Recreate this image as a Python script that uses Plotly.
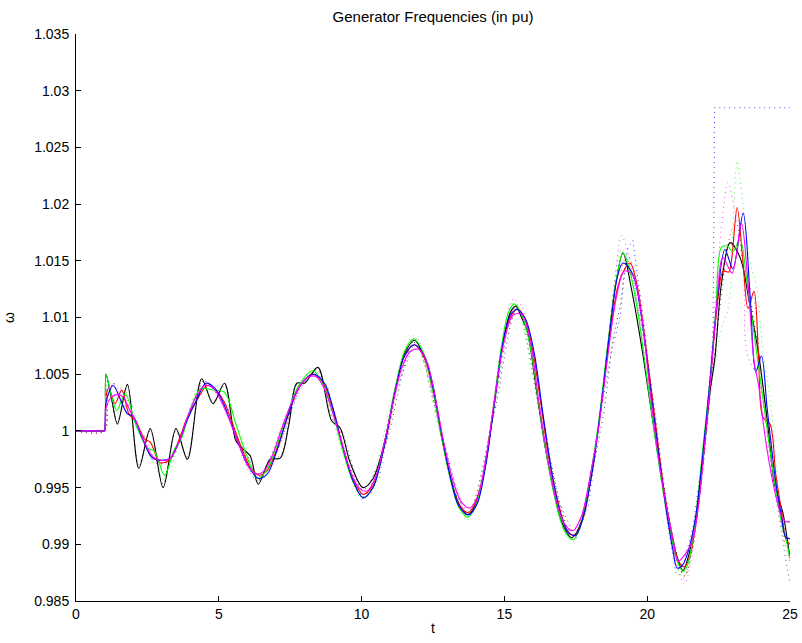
import plotly.graph_objects as go

# ---------------- data ----------------
t_black = [0, 0.95, 1.0, 1.05, 1.25, 1.45, 1.8, 2.2, 2.6, 3.05, 3.5, 3.9, 4.4, 4.8, 5.2, 5.6, 5.85, 6.1, 6.38, 6.8,
           7.15, 7.45, 7.73, 8.0, 8.47, 8.95, 9.24, 9.6, 10.05, 10.4, 10.8, 11.2, 11.5, 11.85, 12.2, 12.5, 12.8, 13.1,
           13.4, 13.7, 14.0, 14.3, 14.6, 14.9, 15.2, 15.4, 15.6, 15.8, 16.1, 16.4, 16.7, 17.0, 17.35, 17.7, 18.0, 18.3,
           18.6, 18.9, 19.15, 19.45, 19.8, 20.1, 20.4, 20.7, 21.0, 21.25, 21.5, 21.75, 22.0, 22.2, 22.37, 22.6, 22.9,
           23.25, 23.6, 23.9, 24.2, 24.45, 24.6, 24.75, 24.9, 25.0]
w_black = [1.0, 1.0, 1.0, 1.0050, 1.0028, 1.0006, 1.0041, 0.9967, 1.0002, 0.9950, 1.0002, 0.9975, 1.0046, 1.0024,
           1.0042, 0.9991, 0.9984, 0.9978, 0.9953, 0.9975, 0.9976, 1.0005, 1.0042, 1.0042, 1.0056, 1.0009, 1.0003,
           0.9972, 0.9950, 0.9958, 0.9990, 1.0040, 1.0068, 1.0080, 1.0065, 1.0040, 0.9995, 0.9960, 0.9936, 0.9926,
           0.9935, 0.9965, 1.0015, 1.0070, 1.0104, 1.0110, 1.0100, 1.0088, 1.0040, 0.9990, 0.9950, 0.9920, 0.9906,
           0.9920, 0.9958, 1.0005, 1.0070, 1.0130, 1.0157, 1.0125, 1.0075, 1.0025, 0.9975, 0.9930, 0.9893, 0.9877,
           0.9895, 0.9930, 0.9985, 1.0035, 1.0064, 1.0130, 1.0166, 1.0153, 1.0110, 1.0068, 1.0010, 0.9955, 0.9940,
           0.9928, 0.9905, 0.9888]

t_red = [0, 0.95, 1.0, 1.05, 1.15, 1.37, 1.6, 1.85, 2.1, 2.4, 2.6, 2.95, 3.3, 3.6, 3.9, 4.3, 4.6, 4.9, 5.2, 5.5, 5.8,
         6.1, 6.4, 6.7, 7.0, 7.4, 7.8, 8.3, 8.7, 9.0, 9.35, 9.7, 10.05, 10.4, 10.8, 11.2, 11.5, 11.85, 12.2, 12.5,
         12.8, 13.1, 13.4, 13.72, 14.0, 14.3, 14.6, 14.9, 15.2, 15.45, 15.7, 16.0, 16.3, 16.6, 16.9, 17.2, 17.45,
         17.75, 18.05, 18.35, 18.65, 18.95, 19.15, 19.4, 19.65, 19.95, 20.25, 20.55, 20.85, 21.1, 21.3, 21.5, 21.75,
         22.0, 22.25, 22.45, 22.66, 22.85, 22.95, 23.15, 23.35, 23.53, 23.74, 23.9, 24.05, 24.3, 24.5, 24.7, 24.85,
         25.0]
w_red = [1.0, 1.0, 1.0, 1.0030, 1.0038, 1.0024, 1.0036, 1.0015, 1.0008, 0.9993, 0.9990, 0.9972, 0.9975, 0.9992,
         1.0012, 1.0030, 1.0040, 1.0036, 1.0025, 1.0005, 0.9985, 0.9968, 0.9961, 0.9965, 0.9982, 1.0012, 1.0038,
         1.0050, 1.0040, 1.0018, 0.9985, 0.9958, 0.9944, 0.9952, 0.9988, 1.0038, 1.0066, 1.0076, 1.0064, 1.0035,
         0.9995, 0.9960, 0.9935, 0.9928, 0.9937, 0.9967, 1.0018, 1.0070, 1.0100, 1.0107, 1.0100, 1.0070, 1.0020,
         0.9970, 0.9935, 0.9912, 0.9908, 0.9922, 0.9962, 1.0015, 1.0075, 1.0125, 1.0140, 1.0148, 1.0128, 1.0075,
         1.0015, 0.9955, 0.9910, 0.9885, 0.9880, 0.9890, 0.9927, 0.9988, 1.0055, 1.0110, 1.0141, 1.0140, 1.0150,
         1.0197, 1.0150, 1.0108, 1.0123, 1.0064, 1.0012, 1.0006, 0.9962, 0.9930, 0.9905, 0.9900]

t_green = [0, 0.95, 1.0, 1.05, 1.25, 1.43, 1.72, 2.1, 2.5, 2.75, 3.1, 3.45, 3.7, 4.0, 4.35, 4.8, 5.2, 5.6, 5.95, 6.35,
           6.7, 7.0, 7.4, 7.8, 8.3, 8.7, 9.0, 9.35, 9.7, 10.05, 10.4, 10.8, 11.2, 11.5, 11.82, 12.15, 12.5, 12.8,
           13.1, 13.4, 13.72, 14.0, 14.3, 14.6, 14.9, 15.15, 15.35, 15.6, 15.9, 16.2, 16.5, 16.8, 17.1, 17.4, 17.7,
           18.0, 18.3, 18.6, 18.9, 19.15, 19.4, 19.7, 20.0, 20.3, 20.6, 20.9, 21.1, 21.26, 21.45, 21.7, 21.95, 22.2,
           22.4, 22.6, 22.8, 23.0, 23.25, 23.5, 23.8, 24.1, 24.4, 24.7, 24.9, 25.0]
w_green = [1.0, 1.0, 1.0, 1.0050, 1.0030, 1.0018, 1.0033, 1.0005, 0.9985, 0.9982, 0.9961, 0.9984, 0.9994, 1.0018,
           1.0037, 1.0036, 1.0034, 1.0006, 0.9980, 0.9958, 0.9966, 0.9985, 1.0015, 1.0040, 1.0053, 1.0038, 1.0015,
           0.9982, 0.9955, 0.9941, 0.9950, 0.9988, 1.0040, 1.0070, 1.0081, 1.0070, 1.0035, 0.9995, 0.9958, 0.9933,
           0.9924, 0.9934, 0.9965, 1.0018, 1.0075, 1.0105, 1.0112, 1.0103, 1.0075, 1.0025, 0.9975, 0.9937, 0.9912,
           0.9904, 0.9918, 0.9958, 1.0008, 1.0072, 1.0130, 1.0157, 1.0140, 1.0100, 1.0045, 0.9990, 0.9940, 0.9900,
           0.9882, 0.9876, 0.9885, 0.9925, 0.9985, 1.0045, 1.0105, 1.0162, 1.0163, 1.0158, 1.0169, 1.0130, 1.0075,
           1.0020, 0.9965, 0.9920, 0.9900, 0.9887]

t_blue = [0, 0.95, 1.0, 1.05, 1.3, 1.6, 1.8, 2.0, 2.3, 2.65, 3.0, 3.3, 3.6, 3.9, 4.2, 4.55, 4.85, 5.15, 5.45, 5.75,
          6.05, 6.4, 6.7, 7.0, 7.4, 7.8, 8.3, 8.7, 9.0, 9.35, 9.7, 10.05, 10.4, 10.8, 11.2, 11.5, 11.85, 12.2, 12.5,
          12.8, 13.1, 13.4, 13.75, 14.05, 14.35, 14.65, 14.95, 15.2, 15.45, 15.75, 16.05, 16.35, 16.65, 16.95, 17.25,
          17.5, 17.8, 18.1, 18.4, 18.7, 18.95, 19.15, 19.5, 19.8, 20.1, 20.4, 20.7, 20.9, 21.05, 21.25, 21.45, 21.7,
          21.95, 22.2, 22.45, 22.72, 23.0, 23.36, 23.6, 23.8, 24.0, 24.2, 24.5, 24.7, 24.85, 25.0]
w_blue = [1.0, 1.0, 1.0, 1.0025, 1.0040, 1.0025, 1.0015, 1.0013, 0.9995, 0.9977, 0.9974, 0.9976, 0.9990, 1.0010,
          1.0026, 1.0042, 1.0038, 1.0025, 1.0005, 0.9985, 0.9968, 0.9958, 0.9962, 0.9980, 1.0012, 1.0038, 1.0050,
          1.0042, 1.0020, 0.9985, 0.9956, 0.9941, 0.9950, 0.9987, 1.0038, 1.0066, 1.0076, 1.0066, 1.0038, 0.9998,
          0.9960, 0.9934, 0.9926, 0.9936, 0.9970, 1.0025, 1.0078, 1.0102, 1.0107, 1.0098, 1.0068, 1.0015, 0.9965,
          0.9928, 0.9910, 0.9908, 0.9928, 0.9968, 1.0025, 1.0090, 1.0135, 1.0148, 1.0138, 1.0100, 1.0040, 0.9980,
          0.9925, 0.9895, 0.9879, 0.9882, 0.9895, 0.9925, 0.9980, 1.0045, 1.0115, 1.0160, 1.0143, 1.0192, 1.0120,
          1.0052, 1.0066, 1.0020, 0.9955, 0.9925, 0.9906, 0.9905]

t_magenta = [0, 0.95, 1.0, 1.05, 1.25, 1.45, 1.65, 1.85, 2.1, 2.4, 2.7, 3.0, 3.3, 3.6, 3.9, 4.2, 4.5, 4.8, 5.1, 5.4,
             5.7, 6.0, 6.3, 6.6, 6.9, 7.2, 7.5, 7.8, 8.1, 8.4, 8.7, 9.0, 9.3, 9.6, 9.9, 10.2, 10.5, 10.8, 11.1, 11.4,
             11.7, 12.0, 12.3, 12.6, 12.9, 13.2, 13.5, 13.8, 14.1, 14.4, 14.7, 15.0, 15.3, 15.6, 15.9, 16.2, 16.5,
             16.8, 17.1, 17.4, 17.7, 18.0, 18.3, 18.6, 18.9, 19.2, 19.5, 19.8, 20.1, 20.4, 20.7, 20.9, 21.08, 21.35,
             21.6, 21.8, 22.0, 22.2, 22.4, 22.65, 22.97, 23.3, 23.5, 23.74, 23.9, 24.1, 24.3, 24.5, 24.7, 24.85, 25.0]
w_magenta = [1.0, 1.0, 1.0, 1.0020, 1.0030, 1.0032, 1.0030, 1.0020, 1.0008, 0.9990, 0.9977, 0.9974, 0.9976, 0.9990,
             1.0012, 1.0030, 1.0040, 1.0038, 1.0025, 1.0008, 0.9988, 0.9970, 0.9962, 0.9965, 0.9980, 1.0002, 1.0022,
             1.0038, 1.0047, 1.0048, 1.0037, 1.0015, 0.9990, 0.9965, 0.9950, 0.9947, 0.9960, 0.9990, 1.0025, 1.0055,
             1.0070, 1.0072, 1.0060, 1.0027, 0.9987, 0.9956, 0.9937, 0.9932, 0.9945, 0.9983, 1.0035, 1.0080, 1.0102,
             1.0103, 1.0080, 1.0027, 0.9978, 0.9940, 0.9918, 0.9912, 0.9925, 0.9960, 1.0003, 1.0062, 1.0115, 1.0141,
             1.0137, 1.0102, 1.0035, 0.9975, 0.9930, 0.9905, 0.9885, 0.9892, 0.9905, 0.9935, 0.9985, 1.0040, 1.0100,
             1.0153, 1.0139, 1.0183, 1.0140, 1.0062, 1.0040, 1.0000, 0.9968, 0.9943, 0.9925, 0.9920, 0.9920]

# dotted companions
t_black_d = [0, 1.0, 1.05, 1.45, 1.8, 2.2, 2.6, 3.05, 3.5, 3.9, 4.4, 4.8, 5.2, 5.6, 6.0, 6.4, 6.8, 7.2, 7.7, 8.0, 8.45,
             8.95, 9.3, 10.05, 10.8, 11.85, 12.8, 13.7, 14.6, 15.45, 16.4, 17.4, 18.4, 18.8, 19.05, 19.3, 19.6, 20.2,
             20.7, 21.3, 21.8, 22.2, 22.6, 22.9, 23.3, 23.9, 24.4, 24.7, 25.0]
w_black_d = [1.0, 1.0, 1.0048, 1.0008, 1.0040, 0.9970, 1.0000, 0.9953, 1.0000, 0.9977, 1.0044, 1.0026, 1.0040, 0.9992,
             0.9978, 0.9955, 0.9972, 0.9980, 1.0040, 1.0043, 1.0054, 1.0012, 1.0000, 0.9948, 0.9985, 1.0079, 0.9998,
             0.9927, 1.0010, 1.0108, 0.9995, 0.9908, 1.0005, 1.0080, 1.0110, 1.0150, 1.0120, 1.0030, 0.9935, 0.9872,
             0.9935, 1.0030, 1.0120, 1.0165, 1.0150, 1.0070, 0.9960, 0.9925, 0.9890]

t_red_d = [0, 1.0, 1.05, 1.3, 1.6, 2.0, 2.4, 2.9, 3.3, 3.9, 4.6, 5.2, 5.8, 6.4, 7.0, 7.8, 8.3, 9.0, 9.7, 10.05, 10.8,
           11.5, 11.85, 12.5, 13.1, 13.7, 14.3, 14.9, 15.45, 16.0, 16.6, 17.4, 18.05, 18.65, 19.3, 19.7, 20.25, 20.85,
           21.3, 21.75, 22.25, 22.7, 23.1, 23.4, 23.75, 24.0, 24.4, 24.7, 25.0]
w_red_d = [1.0, 1.0, 1.0035, 1.0030, 1.0038, 1.0010, 0.9995, 0.9970, 0.9974, 1.0010, 1.0041, 1.0026, 0.9984, 0.9960,
           0.9980, 1.0036, 1.0051, 1.0020, 0.9957, 0.9942, 0.9985, 1.0066, 1.0078, 1.0034, 0.9958, 0.9926, 0.9966,
           1.0072, 1.0110, 1.0070, 0.9968, 0.9905, 0.9960, 1.0078, 1.0155, 1.0125, 1.0012, 0.9905, 0.9872, 0.9925,
           1.0060, 1.0150, 1.0185, 1.0140, 1.0115, 1.0040, 0.9980, 0.9915, 0.9885]

t_green_d = [0, 1.0, 1.05, 1.43, 1.72, 2.5, 3.1, 3.7, 4.35, 5.2, 5.6, 6.35, 7.4, 8.3, 9.35, 10.05, 11.2, 11.82, 12.8,
             13.72, 14.6, 15.35, 16.2, 17.4, 18.3, 19.1, 19.4, 20.3, 21.26, 21.7, 22.2, 22.6, 22.85, 23.0, 23.15,
             23.35, 23.6, 23.84, 24.05, 24.3, 24.65, 24.9, 25.0]
w_green_d = [1.0, 1.0, 1.0048, 1.0015, 1.0035, 0.9982, 0.9958, 0.9996, 1.0039, 1.0035, 1.0005, 0.9956, 1.0014, 1.0055,
             0.9980, 0.9939, 1.0040, 1.0084, 0.9993, 0.9922, 1.0015, 1.0115, 1.0022, 0.9902, 1.0005, 1.0160, 1.0145,
             0.9988, 0.9870, 0.9918, 1.0030, 1.0090, 1.0110, 1.0180, 1.0238, 1.0200, 1.0150, 1.0126, 1.0070, 1.0029,
             0.9932, 0.9877, 0.9868]

t_blue_d = [0, 1.0, 1.05, 1.3, 1.6, 2.0, 2.3, 2.65, 3.0, 3.3, 3.6, 4.1, 4.55, 5.15, 5.8, 6.4, 7.1, 7.8, 8.3, 8.8, 9.35,
            10.05, 10.6, 11.2, 11.85, 12.3, 12.8, 13.3, 13.75, 14.2, 14.65, 15.1, 15.45, 15.9, 16.35, 16.9, 17.5,
            17.95, 18.4, 18.75, 19.05, 19.3, 19.5, 19.8, 20.1, 20.4, 20.7, 21.0, 21.3, 21.6, 21.85, 22.1, 22.3, 22.36,
            23.0, 24.0, 25.0]
w_blue_d = [1.0, 1.0, 1.0028, 1.0043, 1.0026, 1.0012, 0.9994, 0.9975, 0.9972, 0.9976, 0.9990, 1.0022, 1.0044, 1.0026,
            0.9984, 0.9956, 0.9985, 1.0036, 1.0052, 1.0040, 0.9983, 0.9939, 0.9957, 1.0036, 1.0078, 1.0062, 0.9996,
            0.9944, 0.9924, 0.9950, 1.0020, 1.0090, 1.0110, 1.0085, 1.0012, 0.9938, 0.9905, 0.9935, 1.0020, 1.0070,
            1.0100, 1.0160, 1.0168, 1.0110, 1.0045, 0.9980, 0.9920, 0.9875, 0.9885, 0.9915, 0.9965, 1.0010, 1.0060,
            1.0285, 1.0285, 1.0285, 1.0285]

t_magenta_d = [0, 1.0, 1.05, 1.3, 1.6, 2.1, 2.8, 3.3, 3.9, 4.5, 5.1, 6.3, 7.5, 8.4, 9.3, 10.2, 11.1, 11.9, 12.9, 13.8,
               14.7, 15.3, 15.6, 16.5, 17.4, 18.3, 18.9, 19.1, 19.4, 20.1, 20.9, 21.3, 21.6, 22.0, 22.4, 22.6, 22.83,
               23.1, 23.36, 23.5, 23.9, 24.3, 24.7, 25.0]
w_magenta_d = [1.0, 1.0, 1.0025, 1.0042, 1.0032, 1.0008, 0.9972, 0.9974, 1.0012, 1.0043, 1.0026, 0.9958, 1.0020,
               1.0052, 0.9990, 0.9942, 1.0025, 1.0082, 0.9985, 0.9926, 1.0035, 1.0116, 1.0110, 0.9975, 0.9905, 1.0005,
               1.0140, 1.0172, 1.0150, 1.0030, 0.9895, 0.9865, 0.9895, 0.9990, 1.0120, 1.0180, 1.0219, 1.0190, 1.0150,
               1.0068, 1.0045, 0.9975, 0.9910, 0.9865]

x_ticks = [0, 5, 10, 15, 20, 25]
y_ticks = [0.985, 0.99, 0.995, 1.0, 1.005, 1.01, 1.015, 1.02, 1.025, 1.03, 1.035]
y_tick_labels = ["0.985", "0.99", "0.995", "1", "1.005", "1.01", "1.015", "1.02", "1.025", "1.03", "1.035"]

# ---------------- figure ----------------
fig = go.Figure()

dotted = [
    (t_black_d, w_black_d, "#000000", "spline"),
    (t_red_d, w_red_d, "#ff0000", "spline"),
    (t_green_d, w_green_d, "#00ff00", "spline"),
    (t_blue_d, w_blue_d, "#0000ff", "linear"),
    (t_magenta_d, w_magenta_d, "#ff00ff", "spline"),
]
for tt, ww, col, shp in dotted:
    fig.add_trace(go.Scatter(x=tt, y=ww, mode="lines", opacity=0.75,
                             line=dict(color=col, width=1, dash="1px,4px", shape=shp, smoothing=0.9),
                             showlegend=False, hoverinfo="skip"))

solid = [
    (t_black, w_black, "#000000"),
    (t_red, w_red, "#ff0000"),
    (t_green, w_green, "#00ff00"),
    (t_blue, w_blue, "#0000ff"),
    (t_magenta, w_magenta, "#ff00ff"),
]
for tt, ww, col in solid:
    fig.add_trace(go.Scatter(x=tt, y=ww, mode="lines",
                             line=dict(color=col, width=1.1, shape="spline", smoothing=0.9),
                             showlegend=False, hoverinfo="skip"))

font = dict(family="Liberation Sans, Arial, Helvetica, sans-serif", size=14, color="#000000")
title_font = dict(family="Liberation Sans, Arial, Helvetica, sans-serif", size=15, color="#000000")

# plot area at x 76..790, y 34..601 of the 802x643 window
W, H = 802, 643
fig.update_layout(
    width=W, height=H,
    margin=dict(l=76, r=12, t=34, b=42, autoexpand=False),
    paper_bgcolor="white", plot_bgcolor="white",
    font=font,
    title=dict(text="Generator Frequencies (in pu)", x=(76 + 790) / 2 / W, xanchor="center",
               y=1 - 17 / H, yanchor="middle", yref="container", font=title_font),
    showlegend=False,
)
fig.update_xaxes(range=[0, 25], tickvals=x_ticks, ticks="inside", ticklen=5, tickcolor="#000000",
                 showline=True, linecolor="#000000", linewidth=1, mirror=False,
                 showgrid=False, zeroline=False, automargin=False, ticklabeloverflow="allow",
                 title=dict(text="t", font=font, standoff=2), tickfont=font)
fig.update_yaxes(range=[0.985, 1.035], tickvals=y_ticks, ticktext=y_tick_labels, ticks="inside", ticklen=5,
                 tickcolor="#000000", showline=True, linecolor="#000000", linewidth=1, mirror=False,
                 showgrid=False, zeroline=False, automargin=False, ticklabelstandoff=3,
                 title=dict(text="ω", font=font, standoff=16), tickfont=font)

# remove the default 8px page margin so the figure fills the window exactly
fig.write_html("out.html", config={"displayModeBar": False, "staticPlot": True},
               post_script="document.body.style.margin='0';document.body.style.overflow='hidden';")
